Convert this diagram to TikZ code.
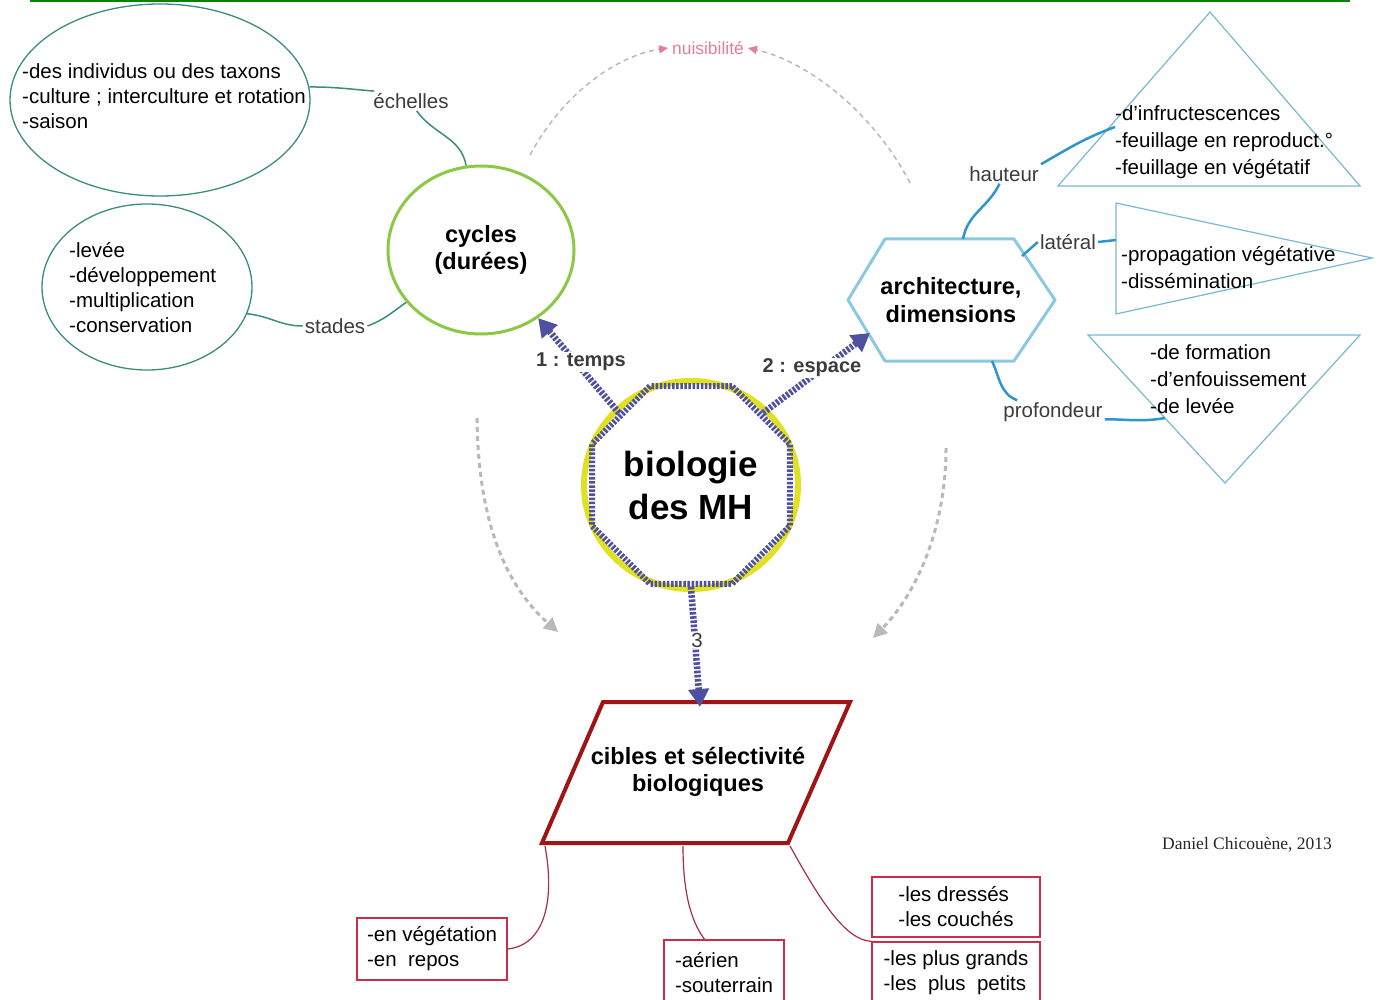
\documentclass[tikz,border=0pt]{standalone}
\usepackage{fontspec}
\setmainfont{Liberation Sans}
\newfontfamily\creditfont{Liberation Serif}
\usetikzlibrary{shapes.geometric,arrows.meta}
\definecolor{topgreen}{RGB}{10,130,10}
\definecolor{tealline}{RGB}{60,140,125}
\definecolor{cycgreen}{RGB}{140,200,70}
\definecolor{archblue}{RGB}{140,200,225}
\definecolor{linkblue}{RGB}{45,150,205}
\definecolor{triblue}{RGB}{120,185,210}
\definecolor{arrblue}{RGB}{80,80,160}
\definecolor{ringyellow}{RGB}{225,225,35}
\definecolor{parred}{RGB}{160,20,20}
\definecolor{boxred}{RGB}{200,45,75}
\definecolor{linkred}{RGB}{160,50,70}
\definecolor{dashgray}{RGB}{185,185,185}
\definecolor{nuipink}{RGB}{230,125,150}
\definecolor{labelgray}{RGB}{60,60,60}
\begin{document}
\begin{tikzpicture}[x=1pt,y=-1pt,
  body/.style={font=\fontsize{20.5}{25}\selectfont, align=left, inner sep=0pt, text=black},
  tribody/.style={font=\fontsize{20.5}{27}\selectfont, align=left, inner sep=0pt, text=black, anchor=west},
  lbl/.style={font=\fontsize{20.5}{22}\selectfont, text=labelgray, inner sep=2pt},
  arrlbl/.style={font=\bfseries\fontsize{20}{22}\selectfont, text=labelgray, inner sep=1pt, fill=white},
  heading/.style={font=\bfseries\fontsize{23.5}{27.5}\selectfont, align=center, text=black},
  bubble/.style={ellipse, draw=tealline, line width=1.3pt},
  bluelink/.style={draw=linkblue, line width=2.5pt},
  teallink/.style={draw=tealline, line width=1.5pt},
  redlink/.style={draw=linkred, line width=1.2pt},
  tri/.style={draw=triblue, line width=1.2pt, line join=miter},
  redbox/.style={draw=boxred, line width=1.3pt, font=\fontsize{20.5}{25}\selectfont, align=left, text=black, inner sep=2pt},
  thickarrow/.style={draw=arrblue, line width=6.5pt, dash pattern=on 2.6pt off 1.6pt, -{Triangle[length=18pt,width=20pt]}},
  grayarrow/.style={draw=dashgray, line width=3pt, dash pattern=on 5pt off 4pt, -{Triangle[length=14pt,width=14pt]}},
  nuiarrow/.style={draw=dashgray, line width=1.5pt, dash pattern=on 5pt off 4pt, -{Triangle[length=9pt,width=8pt,color=nuipink]}}
]
\useasboundingbox (0,0) rectangle (1383,1000);
\fill[white] (0,0) rectangle (1383,1000);
\draw[topgreen, line width=2pt] (30,1) -- (1350,1);

% left bubbles
\node[bubble, minimum width=300pt, minimum height=192pt] (e1) at (160,100) {};
\node[body, anchor=west] (e1t) at (22,96) {-des individus ou des taxons\\-culture ; interculture et rotation\\-saison};
\node[bubble, minimum width=210pt, minimum height=166pt] (e2) at (147,287) {};
\node[body, anchor=west] (e2t) at (69,288) {-levée\\-développement\\-multiplication\\-conservation};
\node[lbl] (ech) at (411,101) {échelles};
\node[lbl] (stad) at (335,326) {stades};

% cycles
\node[ellipse, draw=cycgreen, line width=3pt, minimum width=186pt, minimum height=168pt, heading] (cyc) at (481,250) {cycles\\(durées)};

% central node
\node[ellipse, draw=ringyellow, line width=6pt, minimum width=214pt, minimum height=208pt] (ring) at (691,485) {};
\node[regular polygon, regular polygon sides=8, minimum size=214pt, inner sep=0pt, draw=arrblue, line width=6pt, dash pattern=on 2.5pt off 1.6pt, font=\bfseries\fontsize{35}{43}\selectfont, align=center, text=black] (oct) at (691,485) {biologie\\des MH};

% hexagon
\coordinate (hL) at (848,300);
\coordinate (hTL) at (885,239);
\coordinate (hTR) at (1014,239);
\coordinate (hRt) at (1055,300);
\coordinate (hBR) at (1014,361);
\coordinate (hBL) at (885,361);
\draw[archblue, line width=3pt, line join=round] (hL) -- (hTL) -- (hTR) -- (hRt) -- (hBR) -- (hBL) -- cycle;
\node[heading] (arch) at (951,300) {architecture,\\dimensions};
\coordinate (hA) at (870,333);
\coordinate (hT) at (963,239);
\coordinate (hR) at (1022,256);
\coordinate (hB) at (992,361);

% parallelogram
\coordinate (p1) at (603,702);
\coordinate (p2) at (850,702);
\coordinate (p3) at (788,843);
\coordinate (p4) at (542,843);
\draw[parred, line width=4pt, line join=miter] (p1) -- (p2) -- (p3) -- (p4) -- cycle;
\node[heading] (cib) at (698,772) {cibles et sélectivité\\biologiques};
\coordinate (pTop) at (700,707);
\coordinate (q1) at (545,846);
\coordinate (q2) at (683,846);
\coordinate (q3) at (790,846);

% triangles
\draw[tri] (1210,12) -- (1360,186) -- (1058,186) -- cycle;
\node[tribody] (t1) at (1115,142) {-d'infructescences\\-feuillage en reproduct.°\\-feuillage en végétatif};
\draw[tri] (1116,203) -- (1372,258) -- (1116,314) -- cycle;
\node[tribody] (t2) at (1121,268) {-propagation végétative\\-dissémination};
\draw[tri] (1088,335) -- (1360,335) -- (1225,483) -- cycle;
\node[tribody] (t3) at (1150,379) {-de formation\\-d'enfouissement\\-de levée};
\coordinate (u1) at (1115,127);
\coordinate (u2) at (1116,240);
\coordinate (u3) at (1165,418);

% right labels and links
\node[lbl] (hau) at (1004,174) {hauteur};
\node[lbl] (lat) at (1068,242) {latéral};
\node[lbl] (prof) at (1053,412) {profondeur};
\draw[bluelink] (hT) to[out=80,in=-115] (hau.-115);
\draw[bluelink] (hau.north east) to[out=30,in=200] (u1);
\draw[bluelink] (hR) -- (lat.west);
\draw[bluelink] (lat.east) -- (u2);
\draw[bluelink] (hB) to[out=-65,in=160] ([xshift=16pt]prof.north west);
\draw[bluelink] (prof.-8) to[out=0,in=190] (u3);

% left links
\draw[teallink] (e1.5) to[out=0,in=175] (ech.165);
\draw[teallink] (ech.-60) to[out=-55,in=100] (cyc.100);
\draw[teallink] (e2.-15) to[out=-5,in=180] (stad.west);
\draw[teallink] (stad.east) to[out=20,in=215] (cyc.-145);

% gray dashed arcs
\coordinate (g1) at (530,155);
\coordinate (g2) at (910,183);
\coordinate (g3) at (477,418);
\coordinate (g4) at (558,632);
\coordinate (g5) at (946,448);
\coordinate (g6) at (873,638);
\node[text=nuipink, font=\fontsize{17.4}{18}\selectfont, inner sep=4pt] (nui) at (708,48) {nuisibilité};
\draw[nuiarrow] (g1) .. controls (565,90) and (620,55) .. (nui.west);
\draw[nuiarrow] (g2) .. controls (875,115) and (810,62) .. (nui.east);
\draw[grayarrow] (g3) .. controls (478,520) and (505,585) .. (g4);
\draw[grayarrow] (g5) .. controls (946,530) and (915,595) .. (g6);

% thick dotted arrows
\draw[thickarrow] (oct.135) -- (cyc.-50);
\draw[thickarrow] (oct.45) -- (hA);
\draw[thickarrow] (oct.-90) -- (pTop);
\node[arrlbl] (l1) at (581,362) {1 : temps};
\node[arrlbl] (l2) at (812,368) {2 : espace};
\node[lbl, fill=white, inner sep=1pt] (l3) at (697,640) {3};

% bottom boxes
\node[redbox, minimum width=150pt, minimum height=62pt] (b1) at (432,949) {-en végétation\\-en\ \ repos};
\node[redbox, minimum width=120pt, minimum height=66pt] (b2) at (724,973) {-aérien\\-souterrain};
\node[redbox, minimum width=168pt, minimum height=60pt] (b3) at (956,907) {-les dressés\\-les couchés};
\node[redbox, minimum width=168pt, minimum height=62pt] (b4) at (956,973) {-les plus grands\\-les\ \ plus\ \ petits};
\draw[redlink] (q1) .. controls (555,900) and (545,945) .. (b1.east);
\draw[redlink] (q2) .. controls (683,890) and (690,920) .. (b2.120);
\draw[redlink] (q3) .. controls (820,900) and (845,940) .. (b4.north west);

\node[font=\creditfont\fontsize{17.5}{18}\selectfont, text=black!85] (cred) at (1247,845) {Daniel Chicouène, 2013};
\end{tikzpicture}
\end{document}
